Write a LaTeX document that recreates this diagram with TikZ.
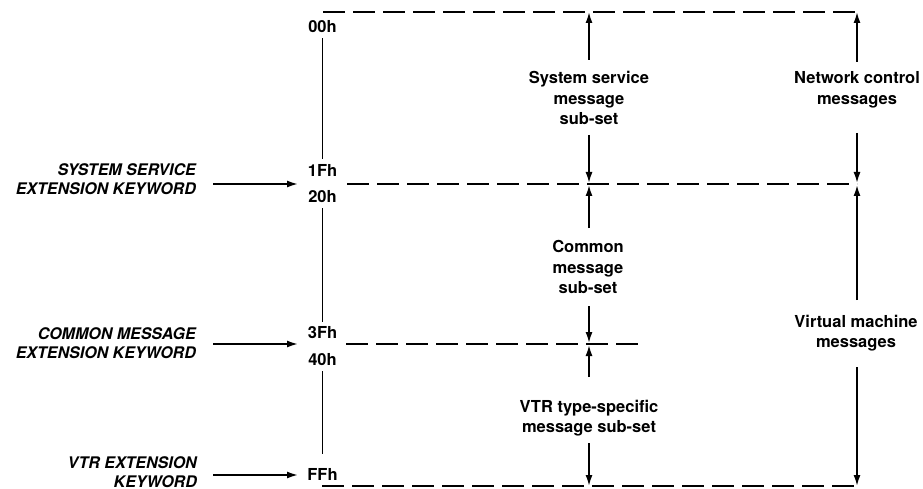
\documentclass[tikz,border=0pt]{standalone}
\usepackage{fontspec}
\setmainfont{TeX Gyre Heros}
\usetikzlibrary{arrows.meta}
\begin{document}
\begin{tikzpicture}[x=1pt,y=-1pt,
  every node/.style={font=\fontsize{16.5}{20.5}\selectfont\bfseries, inner sep=0pt, align=center},
  kw/.style={font=\fontsize{16}{18.5}\selectfont\bfseries\itshape, align=right, anchor=east},
  hex/.style={inner sep=5pt},
  dline/.style={line width=2.6pt, dash pattern=on 22pt off 8pt},
  sline/.style={line width=1.9pt},
  arr/.style={line width=1.7pt, -{Latex[length=11pt,width=7pt]}}]
\useasboundingbox (0,0) rectangle (923,489);
\fill[white] (0,0) rectangle (923,489);

% hex labels
\node[hex] (h00) at (322.5,27) {00h};
\node[hex] (h1F) at (322.5,170) {1Fh};
\node[hex] (h20) at (322.5,197) {20h};
\node[hex] (h3F) at (322.5,333) {3Fh};
\node[hex] (h40) at (322.5,360) {40h};
\node[hex] (hFF) at (322.5,474) {FFh};

% texts
\node (tss) at (589,98) {System service\\message\\sub-set};
\node (tcm) at (588,267) {Common\\message\\sub-set};
\node (tvtr) at (589,418) {VTR type-specific\\message sub-set};
\node (tnc) at (857,90) {Network control\\messages};
\node (tvm) at (856,333) {Virtual machine\\messages};

% keyword labels
\node[kw] (kss) at (196,179) {SYSTEM SERVICE\\EXTENSION KEYWORD};
\node[kw] (kcm) at (196,343) {COMMON MESSAGE\\EXTENSION KEYWORD};
\node[kw] (kvtr) at (197,472) {VTR EXTENSION\\KEYWORD};

% coordinates
\coordinate (T0) at (323,12);   \coordinate (T1) at (857,12);
\coordinate (S0) at (347,184);  \coordinate (S1) at (857,184);
\coordinate (C0) at (346,344);  \coordinate (C1) at (640,344);
\coordinate (B0) at (322,486);  \coordinate (B1) at (857,486);

\coordinate (ka1) at (213,184); \coordinate (kb1) at (298,184);
\coordinate (ka2) at (213,344); \coordinate (kb2) at (298,344);
\coordinate (ka3) at (213,475); \coordinate (kb3) at (298,475);

\coordinate (m0) at (589,12);
\coordinate (m1a) at (589,183); \coordinate (m1b) at (589,185);
\coordinate (m3a) at (589,343); \coordinate (m3b) at (589,345);
\coordinate (m4) at (589,486);
\coordinate (r0) at (857,12);
\coordinate (r1a) at (857,183); \coordinate (r1b) at (857,185);
\coordinate (r4) at (857,486);

\coordinate (ms1) at (589,60);  \coordinate (ms2) at (589,135);
\coordinate (ms3) at (589,228); \coordinate (ms4) at (589,306);
\coordinate (ms5) at (589,377); \coordinate (ms6) at (589,443);
\coordinate (rs1) at (857,62);  \coordinate (rs2) at (857,133);
\coordinate (rs3) at (857,300); \coordinate (rs4) at (857,367);

% dashed boundaries
\draw[dline] (T0) -- (T1);
\draw[dline] (S0) -- (S1);
\draw[dline] (C0) -- (C1);
\draw[dline] (B0) -- (B1);

% left vertical
\draw[sline] (h00) -- (h1F);
\draw[sline] (h20) -- (h3F);
\draw[sline, shorten >=9pt] (h40) -- (hFF);

% keyword arrows
\draw[arr] (ka1) -- (kb1);
\draw[arr] (ka2) -- (kb2);
\draw[arr] (ka3) -- (kb3);

% middle column arrows
\draw[arr] (ms1) -- (m0);
\draw[arr] (ms2) -- (m1a);
\draw[arr] (ms3) -- (m1b);
\draw[arr] (ms4) -- (m3a);
\draw[arr] (ms5) -- (m3b);
\draw[arr] (ms6) -- (m4);

% right column arrows
\draw[arr] (rs1) -- (r0);
\draw[arr] (rs2) -- (r1a);
\draw[arr] (rs3) -- (r1b);
\draw[arr] (rs4) -- (r4);
\end{tikzpicture}
\end{document}
